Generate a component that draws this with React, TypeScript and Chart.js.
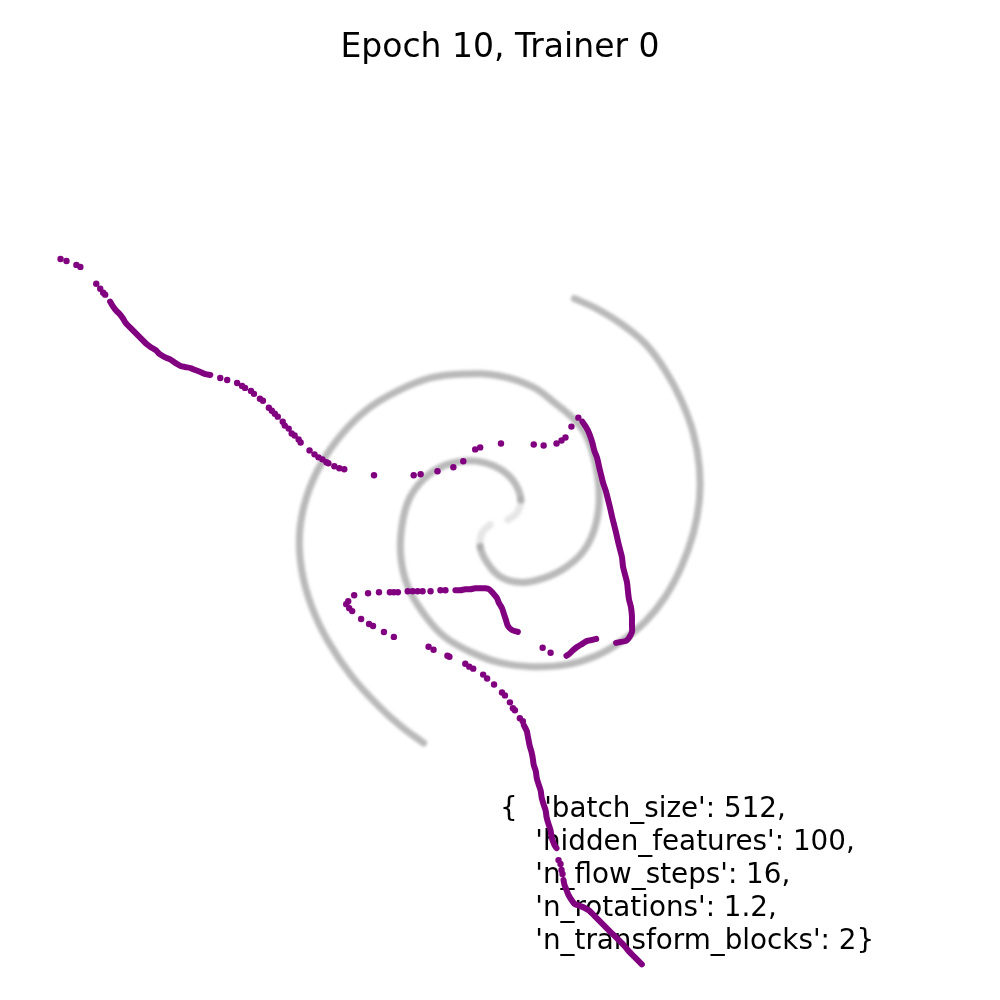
import React, { useEffect, useRef } from "react";
import { Chart, registerables } from "chart.js";

Chart.register(...registerables);

type Pt = [number, number];

const titleText = "Epoch 10, Trainer 0";
const paramLines = [
  "{   'batch_size': 512,",
  "    'hidden_features': 100,",
  "    'n_flow_steps': 16,",
  "    'n_rotations': 1.2,",
  "    'n_transform_blocks': 2}",
];

// Target spiral (gray), outer arm: from top-right end inward to the centre
const spiralArmA: Pt[] = [
  [575, 297], [597, 307], [623, 323], [647, 343], [667, 370], [683, 400], [695, 433], [701, 467],
  [701, 500], [695, 533], [683, 567], [667, 597], [647, 622], [623, 642], [597, 657], [567, 666],
  [533, 668], [500, 664], [470, 653], [443, 637], [422, 613], [407, 587], [400, 557], [401, 527],
  [408, 500], [422, 480], [440, 467], [462, 461], [483, 462], [502, 470], [515, 483], [521, 500],
  [517, 513], [508, 520],
];

// Target spiral (gray), second arm: from the centre outward to bottom-left end
const spiralArmB: Pt[] = [
  [490, 525], [482, 533], [480, 547], [487, 563], [500, 577], [520, 583], [540, 580], [563, 570],
  [583, 553], [595, 530], [600, 500], [597, 467], [587, 435], [574, 418], [555, 402], [533, 386],
  [500, 375], [463, 373], [430, 377], [397, 390], [367, 408], [342, 432], [320, 463], [305, 497],
  [298, 533], [300, 570], [310, 607], [327, 643], [350, 677], [377, 707], [400, 728], [423, 745],
];

// Flow samples (purple): scattered points
const flowDots: Pt[] = [
  [57, 257], [63, 259], [73, 263], [77, 265], [93, 282], [97, 287], [100, 291], [102, 293],
  [218, 377], [225, 379], [235, 382], [240, 385], [243, 387], [249, 390], [252, 393], [258, 398],
  [261, 400], [267, 407], [270, 410], [273, 413], [276, 416], [281, 421], [283, 425], [287, 428],
  [290, 433], [293, 435], [297, 439], [299, 442], [308, 450], [313, 454], [317, 457], [321, 459],
  [325, 462], [327, 463], [333, 466], [338, 468], [343, 469], [373, 475], [413, 475], [420, 474],
  [437, 471], [453, 467], [463, 461], [475, 449], [480, 447], [501, 443], [534, 444], [544, 445],
  [557, 443], [562, 440], [566, 437], [572, 426], [579, 417],
  [543, 649], [551, 654],
  [353, 596], [347, 602], [345, 605], [348, 609], [351, 612], [360, 620], [368, 625], [372, 627],
  [383, 633], [393, 638], [367, 594], [378, 593], [389, 593], [393, 593], [397, 593], [407, 592],
  [412, 592], [417, 592], [422, 592], [430, 592], [440, 591], [445, 591],
  [428, 648], [433, 651], [447, 657], [449, 658], [465, 665], [469, 668], [473, 670], [483, 676],
  [487, 680], [494, 686], [502, 694], [505, 697], [510, 704], [513, 710], [515, 712], [520, 720],
  [523, 723], [559, 863], [561, 867], [562, 873], [563, 877],
];

// Flow samples (purple): densely packed runs
const flowRunTopLeft: Pt[] = [
  [107, 300], [110, 305], [113, 309], [117, 313], [120, 317], [123, 322], [127, 326], [132, 331],
  [136, 335], [140, 339], [144, 343], [148, 346], [153, 349], [157, 353], [162, 356], [167, 358],
  [173, 362], [178, 365], [183, 366], [188, 367], [193, 369], [198, 371], [203, 373], [208, 374],
];
const flowRunVertical: Pt[] = [
  [583, 421], [587, 427], [590, 433], [593, 442], [595, 450], [598, 458], [600, 467], [602, 475],
  [604, 483], [607, 492], [609, 500], [611, 508], [613, 517], [615, 525], [617, 533], [619, 542],
  [621, 550], [623, 558], [624, 567], [626, 575], [628, 583], [629, 592], [630, 600], [632, 608],
  [633, 617], [633, 625], [633, 633], [630, 639], [627, 642], [622, 643], [617, 644],
];
const flowRunHook: Pt[] = [
  [567, 657], [570, 655], [573, 652], [578, 648], [583, 645], [588, 642], [593, 641], [597, 640],
];
const flowRunLoop: Pt[] = [
  [455, 591], [460, 591], [465, 590], [470, 590], [475, 589], [480, 589], [485, 589], [489, 590],
  [493, 594], [497, 599], [499, 604], [502, 609], [504, 615], [506, 621], [508, 627], [512, 631],
  [518, 633],
];
const flowRunLower: Pt[] = [
  [524, 727], [527, 733], [528, 738], [529, 743], [530, 748], [532, 755], [533, 760], [534, 767],
  [536, 773], [537, 780], [539, 787], [541, 793], [542, 800], [544, 807], [546, 813], [547, 820],
  [549, 827], [551, 833], [552, 840], [555, 848], [557, 851],
];
const flowRunTail: Pt[] = [
  [564, 883], [565, 888], [567, 893], [569, 898], [572, 903], [575, 907], [580, 909], [585, 911],
  [590, 914], [595, 919], [600, 924], [605, 929], [610, 934], [615, 939], [620, 944], [625, 949],
  [630, 955], [635, 960], [640, 965], [643, 968],
];

const toXY = (pts: Pt[]) => pts.map(([x, y]) => ({ x, y }));

export default function App() {
  const ref = useRef<HTMLCanvasElement | null>(null);

  useEffect(() => {
    const canvas = ref.current;
    if (!canvas) return;
    const purple = "#800080";
    const gray = "rgba(100,100,100,0.45)";
    const grayFaint = "rgba(130,130,130,0.2)";

    const spiralDs = (pts: Pt[], faintAtStart: boolean) => ({
      data: toXY(pts),
      showLine: true,
      borderColor: gray,
      borderWidth: 7,
      borderCapStyle: "round",
      borderJoinStyle: "round",
      tension: 0.4,
      pointRadius: 0,
      order: 2,
      blur: true,
      segment: {
        borderColor: (c: any) => {
          const n = pts.length;
          if (faintAtStart) return c.p0DataIndex < 2 ? grayFaint : gray;
          return c.p1DataIndex > n - 3 ? grayFaint : gray;
        },
      },
    });

    const runDs = (pts: Pt[]) => ({
      data: toXY(pts),
      showLine: true,
      borderColor: purple,
      backgroundColor: purple,
      borderWidth: 6,
      borderCapStyle: "round",
      borderJoinStyle: "round",
      tension: 0.3,
      pointRadius: 0,
      order: 1,
    });

    const blurPlugin = {
      id: "blurSpiral",
      beforeDatasetDraw(chart: any, args: any) {
        const ds = chart.data.datasets[args.index];
        if (ds.blur) {
          chart.ctx.save();
          chart.ctx.filter = "blur(1.8px)";
        }
      },
      afterDatasetDraw(chart: any, args: any) {
        const ds = chart.data.datasets[args.index];
        if (ds.blur) chart.ctx.restore();
      },
    };

    const textPlugin = {
      id: "texts",
      beforeDatasetsDraw(chart: any) {
        const ctx = chart.ctx;
        ctx.save();
        ctx.fillStyle = "#000";
        ctx.textBaseline = "alphabetic";
        ctx.font = "33px 'DejaVu Sans'";
        ctx.textAlign = "center";
        ctx.fillText(titleText, 500, 57);
        ctx.font = "27.8px 'DejaVu Sans'";
        ctx.textAlign = "left";
        paramLines.forEach((line, i) => ctx.fillText(line, 500, 817 + i * 33));
        ctx.restore();
      },
    };

    const chart = new Chart(canvas, {
      type: "scatter",
      data: {
        datasets: [
          spiralDs(spiralArmA, false) as any,
          spiralDs(spiralArmB, true) as any,
          runDs(flowRunTopLeft) as any,
          runDs(flowRunVertical) as any,
          runDs(flowRunHook) as any,
          runDs(flowRunLoop) as any,
          runDs(flowRunLower) as any,
          runDs(flowRunTail) as any,
          {
            data: toXY(flowDots),
            backgroundColor: purple,
            borderColor: purple,
            borderWidth: 0,
            pointRadius: 3.2,
            order: 1,
          } as any,
        ],
      },
      options: {
        responsive: false,
        devicePixelRatio: 1,
        animation: false,
        layout: { padding: 0 },
        scales: {
          x: { type: "linear", min: 0, max: 1000, display: false },
          y: { type: "linear", min: 0, max: 1000, reverse: true, display: false },
        },
        plugins: {
          legend: { display: false },
          tooltip: { enabled: false },
          title: { display: false },
        },
        events: [],
      },
      plugins: [blurPlugin, textPlugin],
    });

    return () => chart.destroy();
  }, []);

  return (
    <div style={{ position: "fixed", left: 0, top: 0, width: 1000, height: 1000, background: "#fff" }}>
      <canvas ref={ref} width={1000} height={1000} style={{ display: "block" }} />
    </div>
  );
}
